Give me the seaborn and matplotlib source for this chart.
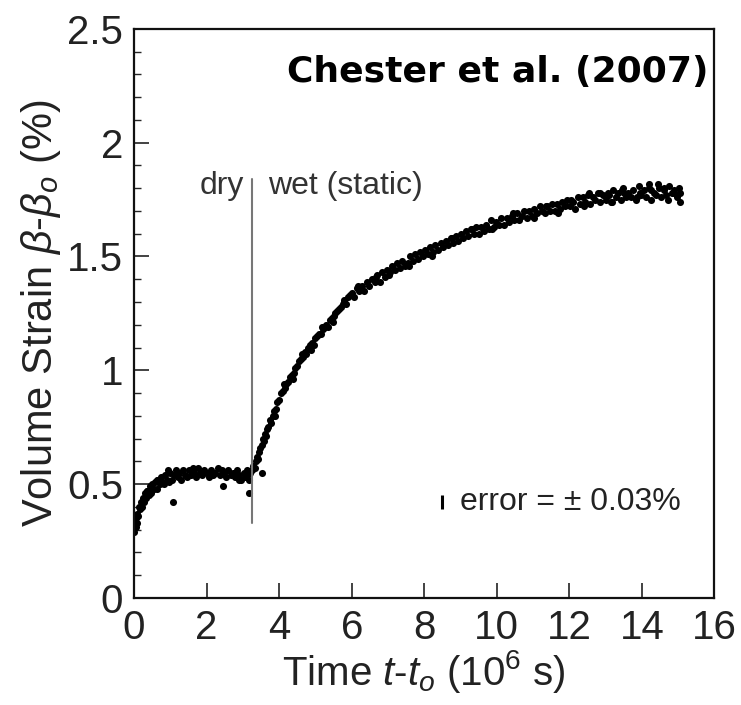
import matplotlib
matplotlib.use('Agg')
import matplotlib.pyplot as plt
from matplotlib.ticker import MultipleLocator
import seaborn as sns
import pandas as pd

# volume strain vs time, read off the Chester et al. (2007) figure
# time in 10^6 s, strain in %
dry_t = [0.00, 0.02, 0.04, 0.06, 0.08, 0.11, 0.13, 0.16, 0.18, 0.21,
         0.24, 0.27, 0.30, 0.33, 0.36, 0.40, 0.43, 0.47, 0.50, 0.54,
         0.58, 0.62, 0.66, 0.70, 0.74, 0.78, 0.82, 0.86, 0.90, 0.95,
         1.00, 1.05, 1.10, 1.15, 1.20, 1.25, 1.30, 1.35, 1.40, 1.46,
         1.52, 1.58, 1.64, 1.70, 1.76, 1.82, 1.88, 1.94, 2.00, 2.06,
         2.12, 2.18, 2.24, 2.30, 2.36, 2.42, 2.48, 2.54, 2.60, 2.66,
         2.72, 2.78, 2.84, 2.90, 2.96, 3.02, 3.07, 3.12, 3.16, 3.20,
         0.09, 0.35, 0.64, 0.93, 1.06, 1.62, 2.44, 2.88, 3.18, 3.10]
dry_strain = [0.29, 0.32, 0.31, 0.35, 0.37, 0.36, 0.40, 0.39, 0.42, 0.40,
              0.44, 0.42, 0.46, 0.44, 0.47, 0.45, 0.49, 0.46, 0.50, 0.48,
              0.51, 0.48, 0.52, 0.50, 0.53, 0.51, 0.50, 0.54, 0.52, 0.51,
              0.55, 0.52, 0.54, 0.56, 0.53, 0.55, 0.52, 0.56, 0.54, 0.53,
              0.56, 0.54, 0.55, 0.53, 0.57, 0.55, 0.54, 0.56, 0.55, 0.53,
              0.56, 0.54, 0.55, 0.57, 0.54, 0.56, 0.55, 0.53, 0.56, 0.54,
              0.55, 0.53, 0.56, 0.54, 0.52, 0.55, 0.53, 0.54, 0.52, 0.55,
              0.33, 0.47, 0.52, 0.56, 0.42, 0.57, 0.49, 0.52, 0.46, 0.56]

wet_t = [3.26, 3.29, 3.32, 3.35, 3.38, 3.42, 3.45, 3.48, 3.52, 3.55,
         3.58, 3.62, 3.66, 3.70, 3.74, 3.78, 3.82, 3.86, 3.90, 3.95,
         4.00, 4.05, 4.10, 4.15, 4.20, 4.25, 4.30, 4.35, 4.40, 4.45,
         4.50, 4.55, 4.60, 4.65, 4.70, 4.75, 4.80, 4.85, 4.90, 4.95,
         5.00, 5.05, 5.10, 5.15, 5.20, 5.25, 5.30, 5.35, 5.40, 5.45,
         5.50, 5.55, 5.60, 5.65, 5.70, 5.75, 5.80, 5.85, 5.90, 5.95,
         3.54, 3.64, 3.88, 4.12, 4.38, 4.62, 4.88, 5.18, 5.48, 5.78,
         6.00, 6.07, 6.14, 6.21, 6.28, 6.35, 6.42, 6.49, 6.56, 6.63,
         6.70, 6.77, 6.84, 6.91, 6.98, 7.05, 7.12, 7.19, 7.26, 7.33,
         7.40, 7.47, 7.54, 7.61, 7.68, 7.75, 7.82, 7.89, 7.96, 8.03,
         8.10, 8.17, 8.24, 8.31, 8.38, 8.45, 8.52, 8.59, 8.66, 8.73,
         8.80, 8.87, 8.94, 9.01, 9.08, 9.15, 9.22, 9.29, 9.36, 9.43,
         9.50, 9.57, 9.64, 9.71, 9.78, 9.85, 9.92, 9.99, 10.06, 10.13,
         10.20, 10.27, 10.34, 10.41, 10.48, 10.55, 10.62, 10.69, 10.76, 10.83,
         10.90, 10.97, 11.04, 11.11, 11.18, 11.25, 11.32, 11.39, 11.46, 11.53,
         11.60, 11.67, 11.74, 11.81, 11.88, 11.95, 12.02, 12.09, 12.16, 12.23,
         12.30, 12.37, 12.44, 12.51, 12.58, 12.65, 12.72, 12.79, 12.86, 12.93,
         13.00, 13.07, 13.14, 13.21, 13.28, 13.35, 13.42, 13.49, 13.56, 13.63,
         13.70, 13.77, 13.84, 13.91, 13.98, 14.05, 14.12, 14.19, 14.26, 14.33,
         14.40, 14.47, 14.54, 14.61, 14.68, 14.75, 14.82, 14.89, 14.96, 15.03,
         12.55, 13.10, 13.45, 13.95, 14.20, 14.60, 14.90, 15.06, 15.05, 14.45,
         6.18, 6.66, 7.02, 7.58, 8.21, 8.77, 9.33, 9.88, 10.44, 11.02,
         11.36, 11.70, 12.06, 12.40, 12.84, 13.18, 13.52, 13.88, 14.24, 14.72]
wet_strain = [0.56, 0.58, 0.57, 0.60, 0.62, 0.61, 0.64, 0.66, 0.67, 0.70,
              0.69, 0.72, 0.74, 0.75, 0.78, 0.77, 0.80, 0.82, 0.83, 0.86,
              0.87, 0.90, 0.91, 0.92, 0.94, 0.95, 0.97, 0.98, 0.99, 1.01,
              1.02, 1.04, 1.05, 1.06, 1.08, 1.07, 1.10, 1.11, 1.12, 1.11,
              1.14, 1.15, 1.16, 1.16, 1.18, 1.19, 1.20, 1.19, 1.22, 1.23,
              1.24, 1.25, 1.26, 1.27, 1.28, 1.29, 1.30, 1.29, 1.32, 1.33,
              0.55, 0.71, 0.80, 0.94, 0.96, 1.07, 1.09, 1.19, 1.21, 1.31,
              1.34, 1.32, 1.36, 1.35, 1.37, 1.35, 1.39, 1.37, 1.40, 1.39,
              1.42, 1.39, 1.43, 1.41, 1.44, 1.43, 1.46, 1.44, 1.47, 1.45,
              1.48, 1.46, 1.47, 1.50, 1.48, 1.51, 1.49, 1.52, 1.50, 1.53,
              1.51, 1.54, 1.52, 1.55, 1.53, 1.56, 1.54, 1.57, 1.55, 1.58,
              1.56, 1.59, 1.57, 1.60, 1.58, 1.61, 1.59, 1.62, 1.60, 1.63,
              1.60, 1.63, 1.61, 1.64, 1.62, 1.66, 1.63, 1.65, 1.64, 1.67,
              1.64, 1.67, 1.65, 1.68, 1.66, 1.69, 1.66, 1.68, 1.70, 1.67,
              1.70, 1.68, 1.71, 1.69, 1.72, 1.70, 1.69, 1.72, 1.70, 1.73,
              1.70, 1.73, 1.71, 1.74, 1.72, 1.75, 1.72, 1.74, 1.71, 1.76,
              1.73, 1.76, 1.74, 1.77, 1.73, 1.76, 1.75, 1.78, 1.74, 1.77,
              1.75, 1.78, 1.74, 1.79, 1.76, 1.78, 1.75, 1.80, 1.76, 1.78,
              1.76, 1.79, 1.75, 1.81, 1.77, 1.79, 1.76, 1.80, 1.75, 1.78,
              1.77, 1.80, 1.76, 1.79, 1.77, 1.81, 1.78, 1.79, 1.76, 1.80,
              1.78, 1.77, 1.79, 1.78, 1.82, 1.80, 1.78, 1.74, 1.78, 1.82,
              1.37, 1.41, 1.42, 1.46, 1.50, 1.58, 1.62, 1.62, 1.69, 1.67,
              1.72, 1.69, 1.75, 1.72, 1.78, 1.74, 1.78, 1.76, 1.79, 1.75]

# where the sample was flooded, and the error bar shown on the plot
wet_start = 3.24
divider_y = [0.33, 1.84]
err_t = 8.5
err_strain = 0.42
err_size = 0.03

sns.set_style('white')
plt.rcParams['font.family'] = ['Liberation Sans', 'DejaVu Sans']
plt.rcParams['mathtext.fontset'] = 'custom'
plt.rcParams['mathtext.rm'] = 'Liberation Sans'
plt.rcParams['mathtext.it'] = 'Liberation Sans:italic'

df = pd.DataFrame({'t': dry_t + wet_t, 'strain': dry_strain + wet_strain})

fig = plt.figure(figsize=(7.41, 7.05), dpi=100)
ax = fig.add_axes([0.181, 0.152, 0.783, 0.807])

sns.scatterplot(data=df, x='t', y='strain', ax=ax, color='black', s=26,
                linewidth=0, legend=False)

ax.plot([wet_start, wet_start], divider_y, color='#777777', lw=1.5)
ax.errorbar(err_t, err_strain, yerr=err_size, fmt='none', ecolor='black',
            elinewidth=2.2, capsize=0)

ax.text(wet_start - 0.2, 1.81, 'dry', ha='right', va='center', fontsize=23,
        color='#333333')
ax.text(wet_start + 0.45, 1.81, 'wet (static)', ha='left', va='center',
        fontsize=23, color='#333333')
ax.text(err_t + 0.5, err_strain, 'error = \u00b1 0.03%', ha='left',
        va='center', fontsize=23, color='#222222')
ax.text(15.85, 2.31, 'Chester et al. (2007)', ha='right', va='center',
        fontsize=26, fontweight='bold', family='DejaVu Sans', color='black')

ax.set_xlim(0, 16)
ax.set_ylim(0, 2.5)
ax.xaxis.set_major_locator(MultipleLocator(2))
ax.yaxis.set_minor_locator(MultipleLocator(0.1))
ax.set_yticks([0, 0.5, 1, 1.5, 2, 2.5])
ax.set_yticklabels(['0', '0.5', '1', '1.5', '2', '2.5'])

ax.tick_params(which='major', direction='in', length=11, width=1.2,
               labelsize=29, pad=8, colors='#222222',
               bottom=True, left=True, top=False, right=False)
ax.tick_params(which='minor', axis='y', direction='in', length=5, width=1.0,
               left=True, right=False)
for sp in ax.spines.values():
    sp.set_linewidth(1.6)
    sp.set_color('#111111')

ax.set_xlabel(r'Time $t$-$t_o$ (10$^6$ s)', fontsize=29, color='#222222',
              labelpad=1)
ax.set_ylabel(r'Volume Strain $\beta$-$\beta_o$ (%)', fontsize=30,
              color='#222222', labelpad=3)

plt.savefig('out.png', dpi=100)
